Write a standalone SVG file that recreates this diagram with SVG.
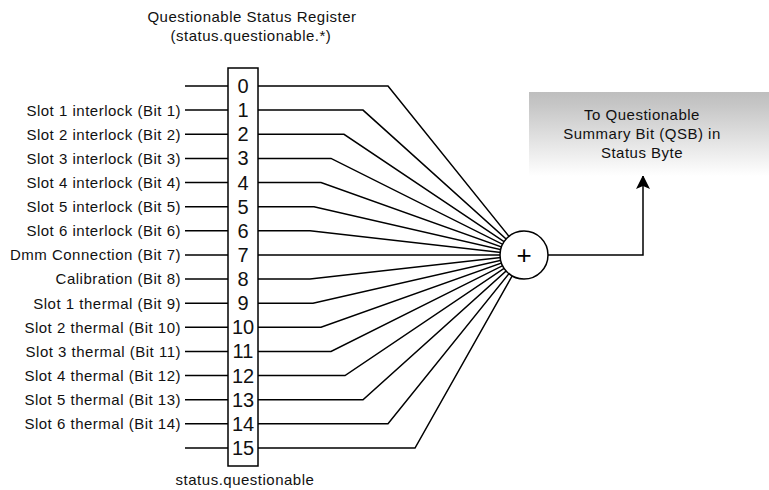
<svg xmlns="http://www.w3.org/2000/svg" width="769" height="490" viewBox="0 0 769 490">
<defs>
<linearGradient id="g" x1="0" y1="0" x2="0" y2="1">
<stop offset="0" stop-color="#bebebe"/>
<stop offset="0.15" stop-color="#c6c6c6"/>
<stop offset="1" stop-color="#ffffff"/>
</linearGradient>
<marker id="ah" viewBox="0 0 14 14" refX="13" refY="7" markerWidth="14" markerHeight="14" markerUnits="userSpaceOnUse" orient="auto">
<path d="M0,0 L14,7 L0,14 L3,7 Z" fill="#000"/>
</marker>
<style>
.t{font-family:"Liberation Sans",Arial,sans-serif;font-size:15px;letter-spacing:0.5px;fill:#111}
.lab{text-anchor:end}
.d{font-family:"Liberation Sans",Arial,sans-serif;font-size:20px;fill:#111;text-anchor:middle}
.ln{stroke:#000;stroke-width:1.5;fill:none}
</style>
</defs>
<rect width="769" height="490" fill="#fff"/>

<g id="title">
<text class="t" x="252" y="22" text-anchor="middle">Questionable Status Register</text>
<text class="t" x="251" y="41" text-anchor="middle">(status.questionable.*)</text>
</g>

<g id="connectors">
<path class="ln" d="M185,86 H228"/>
<path class="ln" d="M185,110.1 H228"/>
<path class="ln" d="M185,134.3 H228"/>
<path class="ln" d="M185,158.4 H228"/>
<path class="ln" d="M185,182.5 H228"/>
<path class="ln" d="M185,206.7 H228"/>
<path class="ln" d="M185,230.8 H228"/>
<path class="ln" d="M185,254.9 H228"/>
<path class="ln" d="M185,279 H228"/>
<path class="ln" d="M185,303.2 H228"/>
<path class="ln" d="M185,327.3 H228"/>
<path class="ln" d="M185,351.4 H228"/>
<path class="ln" d="M185,375.6 H228"/>
<path class="ln" d="M185,399.7 H228"/>
<path class="ln" d="M185,423.8 H228"/>
<path class="ln" d="M185,448 H228"/>

<path class="ln" d="M258,86 H388 L524,255"/>
<path class="ln" d="M258,110.1 H363 L524,255"/>
<path class="ln" d="M258,134.3 H344 L524,255"/>
<path class="ln" d="M258,158.4 H331 L524,255"/>
<path class="ln" d="M258,182.5 H321 L524,255"/>
<path class="ln" d="M258,206.7 H314 L524,255"/>
<path class="ln" d="M258,230.8 H310 L524,255"/>
<path class="ln" d="M258,254.9 H308 L524,255"/>
<path class="ln" d="M258,279 H310 L524,255"/>
<path class="ln" d="M258,303.2 H313 L524,255"/>
<path class="ln" d="M258,327.3 H321 L524,255"/>
<path class="ln" d="M258,351.4 H331 L524,255"/>
<path class="ln" d="M258,375.6 H345 L524,255"/>
<path class="ln" d="M258,399.7 H363 L524,255"/>
<path class="ln" d="M258,423.8 H388 L524,255"/>
<path class="ln" d="M258,448 H415 L524,255"/>

<path class="ln" d="M548,255 H643 V176" marker-end="url(#ah)"/>
</g>

<g id="labels">
<text class="t lab" x="181" y="115.5">Slot 1 interlock (Bit 1)</text>
<text class="t lab" x="181" y="139.6">Slot 2 interlock (Bit 2)</text>
<text class="t lab" x="181" y="163.7">Slot 3 interlock (Bit 3)</text>
<text class="t lab" x="181" y="187.8">Slot 4 interlock (Bit 4)</text>
<text class="t lab" x="181" y="212">Slot 5 interlock (Bit 5)</text>
<text class="t lab" x="181" y="236.1">Slot 6 interlock (Bit 6)</text>
<text class="t lab" x="181" y="260.2">Dmm Connection (Bit 7)</text>
<text class="t lab" x="181" y="284.3">Calibration (Bit 8)</text>
<text class="t lab" x="181" y="308.5">Slot 1 thermal (Bit 9)</text>
<text class="t lab" x="181" y="332.6">Slot 2 thermal (Bit 10)</text>
<text class="t lab" x="181" y="356.7">Slot 3 thermal (Bit 11)</text>
<text class="t lab" x="181" y="380.9">Slot 4 thermal (Bit 12)</text>
<text class="t lab" x="181" y="405">Slot 5 thermal (Bit 13)</text>
<text class="t lab" x="181" y="429.1">Slot 6 thermal (Bit 14)</text>
</g>

<g id="register">
<rect x="228" y="68" width="30" height="398" fill="#fff" stroke="#000" stroke-width="1.5"/>
<text class="d" x="243" y="93">0</text>
<text class="d" x="243" y="117.1">1</text>
<text class="d" x="243" y="141.3">2</text>
<text class="d" x="243" y="165.4">3</text>
<text class="d" x="243" y="189.5">4</text>
<text class="d" x="243" y="213.7">5</text>
<text class="d" x="243" y="237.8">6</text>
<text class="d" x="243" y="261.9">7</text>
<text class="d" x="243" y="286">8</text>
<text class="d" x="243" y="310.2">9</text>
<text class="d" x="243" y="334.3">10</text>
<text class="d" x="243" y="358.4">11</text>
<text class="d" x="243" y="382.6">12</text>
<text class="d" x="243" y="406.7">13</text>
<text class="d" x="243" y="430.8">14</text>
<text class="d" x="243" y="455">15</text>
</g>

<g id="footer">
<text class="t" x="245" y="485" text-anchor="middle">status.questionable</text>
</g>

<g id="sum">
<circle cx="524" cy="255" r="24" fill="#fff" stroke="#000" stroke-width="1.5"/>
<text x="524" y="264" text-anchor="middle" font-family="Liberation Sans, Arial, sans-serif" font-size="26" fill="#000">+</text>
</g>

<g id="qsb">
<rect x="529" y="92" width="240" height="84" fill="url(#g)"/>
<text class="t" x="642" y="120" text-anchor="middle" font-size="14.5">To Questionable</text>
<text class="t" x="642" y="139" text-anchor="middle" font-size="14.5">Summary Bit (QSB) in</text>
<text class="t" x="642" y="158" text-anchor="middle" font-size="14.5">Status Byte</text>
</g>
</svg>
